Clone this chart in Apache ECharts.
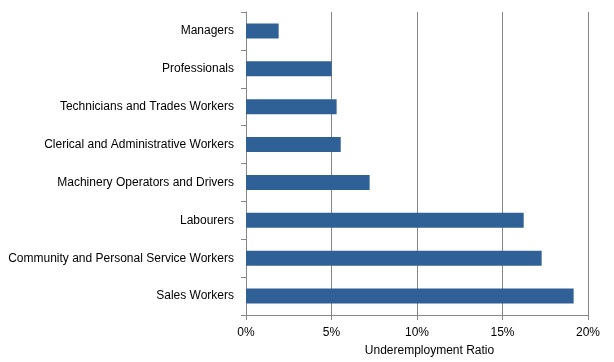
<!DOCTYPE html>
<html><head><meta charset="utf-8">
<script src="https://cdn.jsdelivr.net/npm/echarts@6/dist/echarts.min.js"></script>
<style>html,body{margin:0;padding:0;background:#fff}#c{width:614px;height:362px}</style>
</head><body><div id="c"></div>
<script>
const categories = ["Managers","Professionals","Technicians and Trades Workers","Clerical and Administrative Workers","Machinery Operators and Drivers","Labourers","Community and Personal Service Workers","Sales Workers"];
const ratios = [1.91, 5.01, 5.30, 5.54, 7.23, 16.24, 17.29, 19.16];
const xTicks = [0, 5, 10, 15, 20];
const axisTitle = "Underemployment Ratio";

const chart = echarts.init(document.getElementById('c'), null, {renderer:'canvas'});
const font = "'Liberation Sans', Arial, sans-serif";
chart.setOption({
  animation: false,
  grid: {left: 246, right: 26, top: 12, bottom: 46},
  xAxis: {
    type: 'value', min: xTicks[0], max: xTicks[xTicks.length-1], interval: 5,
    axisLine: {show: true, lineStyle: {color: '#868686', width: 1}},
    axisTick: {show: true, length: 5, lineStyle: {color: '#868686'}},
    splitLine: {show: true, lineStyle: {color: '#868686', width: 1}},
    axisLabel: {formatter: v => v + '%', color: '#000', fontFamily: font, fontSize: 12, margin: 12},
    name: axisTitle, nameLocation: 'middle', nameGap: 30,
    nameTextStyle: {color: '#000', fontFamily: font, fontSize: 12, padding: [0, 0, 0, 25]}
  },
  yAxis: {
    type: 'category', data: categories, inverse: true,
    axisLine: {show: true, lineStyle: {color: '#868686', width: 1}},
    axisTick: {show: true, length: 5, lineStyle: {color: '#868686'}},
    axisLabel: {color: '#000', fontFamily: font, fontSize: 12, margin: 12, padding: [2, 0, 0, 0]},
    splitLine: {show: false}
  },
  series: [{
    type: 'bar', data: ratios, barWidth: 15,
    itemStyle: {color: '#2F6096'}
  }]
});
</script></body></html>
